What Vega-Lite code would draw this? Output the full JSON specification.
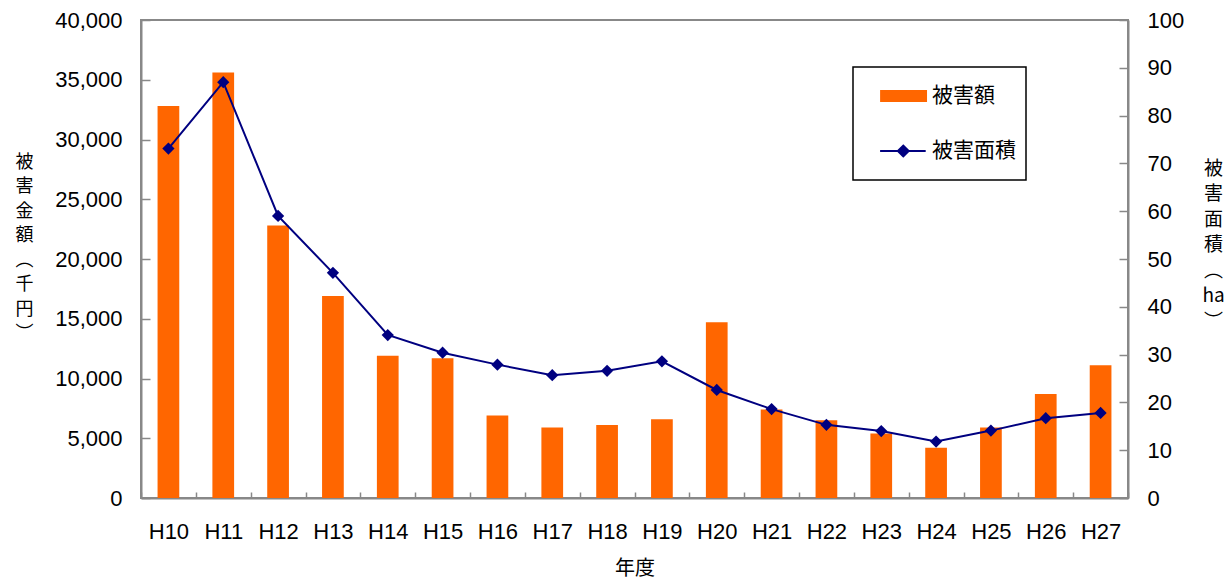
{
  "$schema": "https://vega.github.io/schema/vega-lite/v6.json",
  "width": 987,
  "height": 478,
  "autosize": {"type": "none"},
  "padding": {"left": 141, "top": 20, "right": 101, "bottom": 84},
  "background": "white",
  "config": {
    "view": {"stroke": "#888888", "strokeWidth": 2},
    "font": "Liberation Sans, Noto Sans CJK JP",
    "axis": {
      "grid": false,
      "domainColor": "#888888",
      "domainWidth": 2,
      "tickColor": "#888888",
      "tickWidth": 1.5,
      "labelColor": "black",
      "labelFont": "Liberation Sans",
      "labelFontSize": 22,
      "titleColor": "black",
      "titleFont": "Noto Sans CJK JP",
      "titleFontWeight": "normal",
      "titleFontSize": 19
    }
  },
  "data": {
    "values": [
      {"year": "H10", "amount": 32800, "area": 73.1},
      {"year": "H11", "amount": 35600, "area": 87.0},
      {"year": "H12", "amount": 22800, "area": 59.0},
      {"year": "H13", "amount": 16900, "area": 47.1},
      {"year": "H14", "amount": 11900, "area": 34.1},
      {"year": "H15", "amount": 11700, "area": 30.4},
      {"year": "H16", "amount": 6900, "area": 27.9},
      {"year": "H17", "amount": 5900, "area": 25.7},
      {"year": "H18", "amount": 6100, "area": 26.6},
      {"year": "H19", "amount": 6600, "area": 28.6},
      {"year": "H20", "amount": 14700, "area": 22.6},
      {"year": "H21", "amount": 7400, "area": 18.6},
      {"year": "H22", "amount": 6500, "area": 15.3},
      {"year": "H23", "amount": 5400, "area": 14.0},
      {"year": "H24", "amount": 4200, "area": 11.8},
      {"year": "H25", "amount": 5900, "area": 14.1},
      {"year": "H26", "amount": 8700, "area": 16.7},
      {"year": "H27", "amount": 11100, "area": 17.8}
    ]
  },
  "layer": [
    {
      "mark": {"type": "bar", "width": {"band": 0.396}},
      "encoding": {
        "x": {
          "field": "year",
          "type": "ordinal",
          "scale": {"paddingInner": 0, "paddingOuter": 0},
          "axis": {
            "title": "年度",
            "titleFontSize": 20,
            "labelAngle": 0,
            "tickBand": "extent",
            "tickSize": -6,
            "labelPadding": 29,
            "titleY": 60,
            "titleBaseline": "top"
          }
        },
        "y": {
          "field": "amount",
          "type": "quantitative",
          "scale": {"domain": [0, 40000]},
          "axis": {
            "values": [0, 5000, 10000, 15000, 20000, 25000, 30000, 35000, 40000],
            "format": ",.0f",
            "tickSize": -9,
            "labelPadding": 28,
            "title": ["被", "害", "金", "額", "︵", "千", "円", "︶"],
            "titleFontSize": 18,
            "titleAngle": 0,
            "titleAlign": "center",
            "titleBaseline": "middle",
            "titleLineHeight": 24.5,
            "titleX": -117,
            "titleY": 142
          }
        },
        "color": {
          "datum": "被害額",
          "type": "nominal",
          "scale": {"domain": ["被害額", "被害面積"], "range": ["#FF6600", "#000080"]},
          "legend": {
            "title": null,
            "orient": "none",
            "legendX": 712,
            "legendY": 47,
            "padding": 10,
            "strokeColor": "black",
            "fillColor": "white",
            "labelFont": "Noto Sans CJK JP",
            "labelFontSize": 21,
            "labelColor": "black",
            "labelOffset": 31,
            "rowPadding": 26,
            "symbolSize": 1444,
            "labelExpr": "datum.label + '    '",
            "encode": {
              "legend": {"update": {"strokeWidth": {"value": 1.5}}},
              "symbols": {
                "update": {
                  "shape": {"signal": "datum.value === '被害額' ? 'M-0.1,-0.32H2.37V0.32H-0.1Z' : 'M-0.1,-0.055H2.3V0.055H-0.1Z M1.12,-0.36L1.48,0L1.12,0.36L0.76,0Z M0,1L0,1Z'"},
                  "fill": {"signal": "datum.value === '被害額' ? '#FF6600' : '#000080'"},
                  "strokeWidth": {"value": 0},
                  "opacity": {"value": 1}
                }
              }
            }
          }
        }
      }
    },
    {
      "mark": {
        "type": "line",
        "strokeWidth": 2,
        "point": {"shape": "diamond", "size": 150, "filled": true}
      },
      "encoding": {
        "x": {"field": "year", "type": "ordinal"},
        "y": {
          "field": "area",
          "type": "quantitative",
          "scale": {"domain": [0, 100]},
          "axis": {
            "orient": "right",
            "values": [0, 10, 20, 30, 40, 50, 60, 70, 80, 90, 100],
            "tickSize": -9,
            "labelPadding": 28,
            "title": ["被", "害", "面", "積", "︵", "ha", "︶"],
            "titleAngle": 0,
            "titleAlign": "center",
            "titleBaseline": "middle",
            "titleLineHeight": 25.5,
            "titleX": 85,
            "titleY": 148
          }
        },
        "color": {"datum": "被害面積", "type": "nominal"}
      }
    }
  ],
  "resolve": {"scale": {"y": "independent"}}
}
